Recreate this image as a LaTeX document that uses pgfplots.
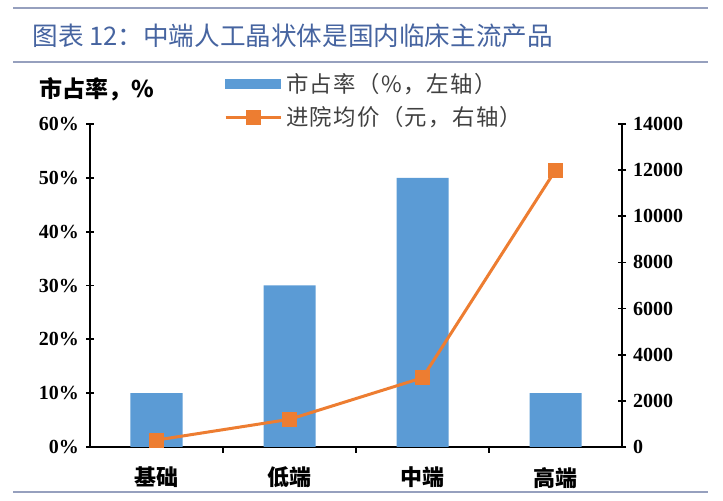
\documentclass[border=0pt]{standalone}
\usepackage{fontspec}
\setmainfont{Liberation Serif}
\newfontfamily\cjk{Noto Sans CJK SC}
\newfontfamily\cjkl{Noto Sans CJK SC}[LetterSpace=6]
\usepackage{pgfplots}
\pgfplotsset{compat=1.18}
\definecolor{barblue}{RGB}{91,155,213}
\definecolor{lineorange}{RGB}{237,125,49}
\definecolor{titleblue}{RGB}{70,100,160}
\definecolor{rulecol}{RGB}{150,160,190}
\pgfplotsset{
  barlegend/.style={legend image code/.code={\fill[barblue] (0pt,-2.25pt) rectangle (27.5pt,2.25pt);}},
  linelegend/.style={legend image code/.code={\draw[##1, mark repeat=2, mark phase=2] plot coordinates {(0pt,0pt) (13.75pt,0pt) (27.5pt,0pt)};}},
}
\begin{document}
\begin{tikzpicture}
\useasboundingbox (0,0) rectangle (361.5pt,-250.5pt);
\draw[rulecol, line width=1.2pt] (6.5pt,-4pt) -- (354pt,-4pt);
\draw[rulecol, line width=1.2pt] (6.5pt,-31pt) -- (354pt,-31pt);
\draw[rulecol, line width=1.2pt] (6.5pt,-246pt) -- (354pt,-246pt);
\node[anchor=west, inner sep=0pt, text=titleblue, font=\cjk\fontsize{12.8}{14}\selectfont] at (16pt,-18pt) {图表 12：中端人工晶状体是国内临床主流产品};
\node[anchor=west, inner sep=0pt, font=\cjk\bfseries\fontsize{11.5}{13}\selectfont] at (19.5pt,-44.5pt) {市占率，\%};
\begin{axis}[
  at={(45pt,-223.5pt)}, anchor=south west, scale only axis,
  width=266pt, height=161.5pt,
  xmin=-0.5, xmax=3.5, ymin=0, ymax=60,
  axis y line*=left, axis x line*=bottom,
  axis line style={black, line width=0.9pt},
  xtick={0,1,2,3}, xticklabels={基础,低端,中端,高端},
  major x tick style={draw=none},
  minor xtick={0.5,1.5,2.5},
  minor x tick style={black, line width=0.9pt},
  minor tick length=3pt,
  xtick align=outside,
  x tick label style={font=\cjk\bfseries\fontsize{11}{13}\selectfont, yshift=-2.5pt},
  ytick={0,10,20,30,40,50,60},
  yticklabels={0\%,10\%,20\%,30\%,40\%,50\%,60\%},
  ytick align=center, major tick length=4pt,
  y tick style={black, line width=0.9pt},
  y tick label style={font=\bfseries\fontsize{10}{12}\selectfont},
  clip=false,
]
\addplot[ybar, bar width=26pt, fill=barblue, draw=none] coordinates {(0,10) (1,30) (2,50) (3,10)};
\end{axis}
\begin{axis}[
  at={(45pt,-223.5pt)}, anchor=south west, scale only axis,
  width=266pt, height=161.5pt,
  xmin=-0.5, xmax=3.5, ymin=0, ymax=14000,
  axis y line*=right, axis x line=none,
  axis line style={black, line width=0.9pt},
  ytick={0,2000,4000,6000,8000,10000,12000,14000},
  scaled y ticks=false,
  /pgf/number format/1000 sep={},
  /pgf/number format/assume math mode=true,
  ytick align=center, major tick length=4pt,
  y tick style={black, line width=0.9pt},
  y tick label style={font=\bfseries\fontsize{10}{12}\selectfont},
  legend style={at={(0.24,0.96)}, anchor=south west, draw=none, fill=none,
    font=\color{black!75}\cjkl\fontsize{11.2}{13}\selectfont, row sep=1.5pt},
  legend cell align=left,
  clip=false,
]
\addlegendimage{barlegend}
\addlegendentry{市占率（\%，左轴）}
\addplot[lineorange, line width=1.5pt, mark=square*, mark size=3pt, mark options={solid}, linelegend]
  coordinates {(0,300) (1,1200) (2,3000) (3,12000)};
\addlegendentry{进院均价（元，右轴）}
\end{axis}
\end{tikzpicture}
\end{document}
